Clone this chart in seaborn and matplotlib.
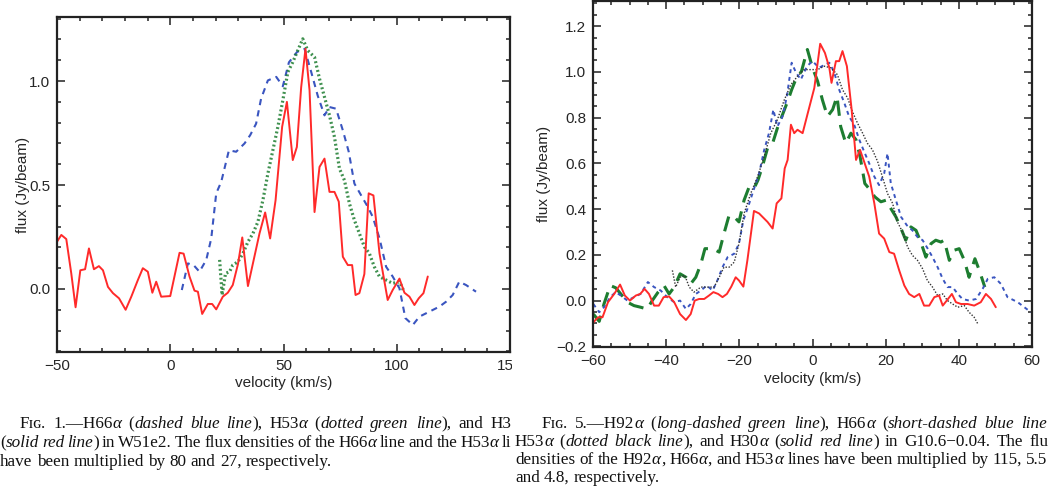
import re
import numpy as np
import pandas as pd
import seaborn as sns
import matplotlib.pyplot as plt
from matplotlib.ticker import MultipleLocator
from matplotlib.transforms import Bbox, TransformedBbox

sns.set_style("ticks")
plt.rcParams['font.family'] = ['Liberation Sans', 'DejaVu Sans']

# ---- Fig. 1 (W51e2) ----
w51_h30_v = [-50, -48.1, -45.9, -43.7, -41.8, -39.7, -37.6, -35.9, -33.7, -31.5, -29.7, -27.5, -25.3,
             -22.6, -19.7, -17.2, -14.3, -12.1, -9.9, -7.9, -6.2, -4.0, 0, 4.1, 5.9, 8.5, 10.7, 12.2,
             14.1, 16.6, 18.5, 20.3, 23.2, 25.4, 27.6, 29.9, 31.8, 34.3, 36.5, 39.4, 41.9, 44.1, 46.5,
             49.4, 51.5, 54.1, 55.9, 57.8, 59.7, 61.5, 63.7, 65.9, 68.1, 70.3, 72.5, 74.4, 76.2, 78.4,
             80.3, 81.8, 83.5, 85.7, 87.6, 89.7, 92.4, 96.0, 98.2, 101.2, 103.4, 105.6, 107.8, 109.7,
             111.8, 113.7]
w51_h30_f = [0.227, 0.26, 0.24, 0.075, -0.088, 0.09, 0.095, 0.195, 0.095, 0.11, 0.09, 0.01, -0.02,
             -0.045, -0.10, -0.037, 0.043, 0.10, 0.083, -0.018, 0.035, -0.037, -0.034, 0.174, 0.17,
             0.06, -0.008, -0.013, -0.12, -0.072, -0.072, -0.098, -0.037, -0.018, 0.019, 0.12, 0.248,
             0.014, 0.123, 0.267, 0.368, 0.243, 0.427, 0.78, 0.90, 0.62, 0.683, 0.97, 1.155, 0.955,
             0.37, 0.587, 0.627, 0.467, 0.467, 0.42, 0.155, 0.115, 0.115, -0.029, -0.02, 0.072, 0.46,
             0.45, 0.17, -0.053, -0.005, 0.05, -0.018, -0.037, -0.077, -0.045, -0.02, 0.06]

w51_h66_v = [5.1, 7.8, 10.3, 12.9, 15.9, 18.1, 20.3, 22.5, 25.9, 29.1, 32.8, 35.3, 37.9, 40.1, 43.1,
             46.8, 49.7, 52.4, 56.0, 59.3, 62.2, 65.1, 68.1, 70.3, 73.2, 76.2, 78.8, 81.3, 84.3, 87.2,
             89.4, 92.4, 95.3, 98.2, 101.2, 103.8, 107.1, 110.0, 114.4, 118.8, 121.8, 124.7, 127.6,
             130.6, 135.0]
w51_h66_f = [-0.005, 0.123, 0.115, 0.083, 0.14, 0.243, 0.46, 0.515, 0.667, 0.66, 0.70, 0.74, 0.795,
             0.915, 1.003, 1.02, 0.975, 1.09, 1.14, 1.155, 1.045, 0.93, 0.835, 0.875, 0.867, 0.763,
             0.66, 0.507, 0.45, 0.395, 0.347, 0.243, 0.107, 0.06, 0.003, -0.14, -0.173, -0.133,
             -0.109, -0.085, -0.061, -0.029, 0.035, 0.019, -0.013]

w51_h53_v = [21.8, 22.9, 24.4, 26.2, 27.6, 29.9, 32.1, 34.3, 36.5, 38.7, 40.9, 43.1, 45.3, 47.5, 49.7,
             51.9, 54.1, 56.3, 58.5, 60.7, 63.7, 65.9, 68.1, 70.3, 72.5, 74.7, 76.9, 79.1, 81.3, 83.5,
             85.7, 87.9, 90.1, 92.4, 95.3, 98.2, 101.2, 102.9]
w51_h53_f = [0.14, -0.029, 0.075, 0.083, 0.115, 0.131, 0.171, 0.227, 0.267, 0.323, 0.427, 0.555,
             0.667, 0.779, 0.907, 1.043, 1.091, 1.147, 1.203, 1.147, 1.115, 1.011, 0.923, 0.835,
             0.731, 0.579, 0.523, 0.411, 0.331, 0.267, 0.203, 0.171, 0.107, 0.059, 0.043, 0.027,
             0.035, -0.005]

# ---- Fig. 5 (G10.6-0.04) ----
g10_h30_v = [-59.9, -58.6, -57.4, -55.9, -54.2, -52.6, -51.3, -49.9, -48.3, -47.1, -45.9, -44.7,
             -43.3, -42.0, -40.7, -39.2, -37.8, -36.2, -34.6, -33.3, -32.2, -31.0, -29.6, -28.3,
             -27.1, -25.8, -24.6, -23.4, -22.2, -21.0, -20.1, -18.9, -17.8, -16.0, -14.6, -12.3,
             -10.9, -9.8, -8.5, -7.6, -6.8, -5.9, -5.0, -4.1, -2.7, -1.4, 0.5, 2.1, 3.4, 4.6, 5.2,
             6.4, 7.3, 8.2, 9.4, 10.7, 11.9, 13.0, 14.1, 15.5, 16.9, 18.2, 19.6, 21.0, 22.3, 23.7,
             25.1, 26.4, 27.8, 29.2, 30.5, 31.9, 33.3, 34.6, 35.6, 36.7, 38.1, 39.2, 40.6, 42.4,
             44.2, 46.0, 47.4, 48.8, 50.1]
g10_h30_f = [-0.095, -0.073, -0.073, -0.007, 0.029, 0.070, 0.022, 0.0, 0.022, 0.029, 0.051, 0.029,
             -0.022, -0.022, 0.015, 0.018, -0.007, -0.059, -0.085, -0.059, 0.0, 0.007, 0.007, 0.022,
             0.037, 0.029, 0.015, 0.029, 0.061, 0.102, 0.088, 0.061, 0.176, 0.392, 0.381, 0.344,
             0.315, 0.425, 0.447, 0.578, 0.615, 0.769, 0.732, 0.747, 0.732, 0.813, 0.930, 1.123,
             1.083, 1.018, 0.952, 1.047, 1.047, 1.091, 1.025, 0.835, 0.615, 0.659, 0.608, 0.542,
             0.425, 0.293, 0.271, 0.212, 0.205, 0.132, 0.066, 0.029, 0.015, 0.029, -0.022, -0.022,
             0.015, 0.022, -0.022, 0.0, 0.029, -0.007, -0.015, -0.015, -0.022, -0.007, 0.029,
             0.007, -0.029]

g10_h66_v = [-59.9, -58.3, -57.0, -55.3, -53.8, -52.4, -50.6, -48.8, -47.0, -45.0, -43.3, -41.5,
             -39.7, -37.8, -36.2, -34.6, -33.3, -31.9, -30.5, -28.9, -27.3, -26.0, -24.6, -23.2,
             -21.4, -20.1, -18.9, -17.6, -16.1, -14.6, -13.2, -11.9, -10.7, -9.6, -8.2, -7.0, -5.7,
             -4.6, -3.2, -1.5, 0, 1.8, 3.4, 4.6, 5.9, 7.3, 8.7, 10.0, 11.4, 12.8, 14.1, 15.5, 16.9,
             18.2, 19.6, 20.5, 21.4, 22.8, 24.2, 25.8, 27.3, 28.7, 30.1, 31.5, 32.8, 34.2, 35.6,
             36.9, 38.3, 39.7, 41.0, 42.8, 44.7, 46.5, 47.9, 49.7, 51.5, 53.3, 56.1, 59.7]
g10_h66_f = [-0.015, -0.051, -0.029, 0.015, 0.037, 0.022, 0.0, 0.015, 0.029, 0.081, 0.059, 0.044,
             0.015, -0.007, 0.0, -0.037, -0.015, 0.029, 0.044, 0.066, 0.044, 0.088, 0.146, 0.190,
             0.205, 0.249, 0.351, 0.410, 0.483, 0.556, 0.659, 0.732, 0.835, 0.761, 0.805, 0.893,
             1.040, 1.0, 0.966, 1.025, 1.047, 1.018, 1.032, 1.040, 1.0, 0.922, 0.864, 0.805, 0.769,
             0.703, 0.652, 0.600, 0.542, 0.505, 0.556, 0.644, 0.513, 0.439, 0.366, 0.329, 0.307,
             0.278, 0.264, 0.227, 0.190, 0.146, 0.095, 0.059, 0.059, 0.029, 0.007, 0.0, 0.007,
             0.051, 0.095, 0.102, 0.073, 0.015, -0.007, -0.051]

g10_h92_v = [-59.9, -58.3, -57.0, -55.3, -53.8, -52.4, -50.6, -48.8, -47.0, -45.2, -43.8, -42.2,
             -40.6, -39.2, -37.8, -36.2, -34.6, -33.3, -31.9, -30.5, -29.4, -27.3, -25.5, -24.2,
             -22.8, -21.4, -20.1, -18.7, -17.3, -16.0, -14.9, -13.7, -12.3, -10.9, -9.6, -8.2, -6.8,
             -5.7, -4.6, -3.0, -1.4, 0, 1.4, 2.7, 4.1, 5.5, 6.7, 7.7, 9.1, 10.5, 11.9, 13.0, 14.3,
             15.8, 17.0, 18.7, 20.1, 21.4, 22.8, 24.2, 25.5, 26.9, 28.3, 29.6, 31.0, 32.4, 33.7,
             35.1, 36.0, 37.4, 38.7, 40.1, 41.5, 42.8, 44.4, 45.6, 47.1]
g10_h92_f = [-0.059, -0.091, -0.015, 0.066, 0.056, 0.029, -0.007, -0.022, -0.029, -0.037, 0.0,
             0.037, 0.066, 0.029, 0.059, 0.117, 0.102, 0.073, 0.102, 0.161, 0.227, 0.227, 0.212,
             0.293, 0.373, 0.366, 0.344, 0.439, 0.498, 0.490, 0.527, 0.586, 0.666, 0.688, 0.754,
             0.813, 0.871, 0.922, 0.966, 1.003, 1.098, 1.018, 0.959, 0.878, 0.805, 0.835, 0.893,
             0.761, 0.688, 0.732, 0.703, 0.630, 0.512, 0.483, 0.454, 0.432, 0.439, 0.403, 0.366,
             0.315, 0.264, 0.322, 0.307, 0.256, 0.190, 0.249, 0.264, 0.256, 0.264, 0.176, 0.220,
             0.227, 0.176, 0.102, 0.183, 0.132, 0.059]

g10_h53_v = [-38.3, -37.4, -36.2, -34.9, -33.7, -32.4, -30.5, -28.7, -26.9, -25.5, -24.2, -22.8,
             -21.4, -20.1, -18.7, -16.9, -15.0, -13.2, -11.4, -9.6, -7.7, -5.9, -4.1, -2.3, -0.5,
             1.4, 3.2, 5.0, 6.8, 8.2, 9.6, 10.9, 12.3, 13.7, 15.0, 16.4, 17.8, 19.1, 20.5, 21.9,
             23.2, 24.6, 26.0, 27.3, 28.7, 30.1, 31.4, 32.8, 34.2, 35.6, 36.9, 38.3, 39.7, 41.5,
             42.8, 44.2, 45.3]
g10_h53_f = [0.132, 0.059, 0.102, 0.110, 0.059, 0.037, 0.059, 0.059, 0.059, 0.102, 0.146, 0.146,
             0.168, 0.249, 0.381, 0.468, 0.542, 0.630, 0.732, 0.791, 0.878, 0.944, 0.981, 1.010,
             1.010, 1.010, 1.025, 1.018, 0.988, 0.922, 0.886, 0.827, 0.776, 0.732, 0.688, 0.659,
             0.608, 0.542, 0.468, 0.425, 0.344, 0.300, 0.234, 0.198, 0.176, 0.139, 0.088, 0.059,
             0.022, 0.029, 0.0, -0.015, -0.029, -0.022, -0.051, -0.073, -0.105]

# captions as cropped in the picture, {...} = italic
caption1 = ["Fɪɢ. 1.—H66{α} ({dashed blue line}), H53{α} ({dotted green line}), and H3",
            "({solid red line}) in W51e2. The flux densities of the H66{α} line and the H53{α} li",
            "have been multiplied by 80 and 27, respectively."]
caption5 = ["Fɪɢ. 5.—H92{α} ({long-dashed green line}), H66{α} ({short-dashed blue line}",
            "H53{α} ({dotted black line}), and H30{α} ({solid red line}) in G10.6−0.04. The flu",
            "densities of the H92{α}, H66{α}, and H53{α} lines have been multiplied by 115, 5.5",
            "and 4.8, respectively."]

RED = '#ff2a2a'
BLUE = '#3a55c0'
GREEN = '#1d7d30'

W, H = 1049, 487
fig = plt.figure(figsize=(W / 100, H / 100), dpi=100)
left_clip = TransformedBbox(Bbox([[0, 0], [512 / W, 1]]), fig.transFigure)


def px_axes(l, r, t, b):
    return fig.add_axes([l / W, (H - b) / H, (r - l) / W, (b - t) / H])


def style_axes(ax, xmaj, xmin, ymaj, ymin):
    ax.xaxis.set_major_locator(MultipleLocator(xmaj))
    ax.xaxis.set_minor_locator(MultipleLocator(xmin))
    ax.yaxis.set_major_locator(MultipleLocator(ymaj))
    ax.yaxis.set_minor_locator(MultipleLocator(ymin))
    ax.tick_params(which='both', direction='in', top=True, right=True, width=1.1, color='#222')
    ax.tick_params(which='major', length=6, labelsize=11, pad=5)
    ax.tick_params(which='minor', length=3)
    for s in ax.spines.values():
        s.set_linewidth(1.6)
        s.set_color('#222')
    ax.set_xlabel('velocity (km/s)', fontsize=11)
    ax.set_ylabel('flux (Jy/beam)', fontsize=11)


# left panel
ax1 = px_axes(57, 510, 17, 352)
sns.lineplot(x=w51_h66_v, y=w51_h66_f, ax=ax1, color=BLUE, linewidth=1.5,
             linestyle=(0, (3, 2.5)), estimator=None, sort=False)
sns.lineplot(x=w51_h53_v, y=w51_h53_f, ax=ax1, color=GREEN, linewidth=2.3,
             linestyle=(0, (0.6, 0.8)), estimator=None, sort=False, alpha=0.85)
sns.lineplot(x=w51_h30_v, y=w51_h30_f, ax=ax1, color=RED, linewidth=1.4,
             estimator=None, sort=False)
ax1.set_xlim(-50, 150)
ax1.set_ylim(-0.303, 1.308)
style_axes(ax1, 50, 10, 0.5, 0.1)
ax1.yaxis.set_major_formatter('{x:.1f}')
ax1.xaxis.set_label_coords(0.5, -0.072)
ax1.yaxis.set_label_coords(-0.06, 0.5)
for lab in ax1.get_xticklabels():
    lab.set_clip_on(True)
    lab.set_clip_box(left_clip)

# right panel
ax2 = px_axes(593, 1032, 1, 347)
sns.lineplot(x=g10_h92_v, y=g10_h92_f, ax=ax2, color=GREEN, linewidth=2.2,
             linestyle=(0, (5, 3)), estimator=None, sort=False)
sns.lineplot(x=g10_h66_v, y=g10_h66_f, ax=ax2, color=BLUE, linewidth=1.4,
             linestyle=(0, (2, 2)), estimator=None, sort=False)
sns.lineplot(x=g10_h53_v, y=g10_h53_f, ax=ax2, color='#333333', linewidth=1.0,
             linestyle=(0, (1, 1.2)), estimator=None, sort=False)
sns.lineplot(x=g10_h30_v, y=g10_h30_f, ax=ax2, color=RED, linewidth=1.4,
             estimator=None, sort=False)
ax2.set_xlim(-60, 60)
ax2.set_ylim(-0.203, 1.31)
style_axes(ax2, 20, 5, 0.2, 0.05)
ax2.yaxis.set_major_formatter('{x:.1f}')
ax2.xaxis.set_label_coords(0.5, -0.072)
ax2.yaxis.set_label_coords(-0.096, 0.5)

# captions (pixel coords, y down)
cap = fig.add_axes([0, 0, 1, 1], zorder=-1)
cap.set_xlim(0, W)
cap.set_ylim(H, 0)
cap.axis('off')
renderer = fig.canvas.get_renderer()


def caption_line(x0, y, line, x1=None, clip=None):
    words = [[]]
    for seg in [p for p in re.split(r'(\{[^}]*\})', line) if p]:
        italic = seg.startswith('{')
        for k, piece in enumerate(seg.strip('{}').split(' ')):
            if k > 0:
                words.append([])
            if piece:
                words[-1].append((piece, italic))
    words = [w for w in words if w]
    kw = dict(fontsize=12.3, family=['Liberation Serif', 'DejaVu Serif'], color='#111',
              va='baseline', ha='left')
    arts, widths = [], []
    for w in words:
        row = []
        for piece, italic in w:
            t = cap.text(0, y, piece, style='italic' if italic else 'normal', **kw)
            row.append((t, t.get_window_extent(renderer).width))
        arts.append(row)
        widths.append(sum(r[1] for r in row))
    gap = 4.3
    if x1 is not None and len(words) > 1:
        gap = (x1 - x0 - sum(widths)) / (len(words) - 1)
    x = x0
    for row in arts:
        for t, wdt in row:
            t.set_x(x)
            if clip is not None:
                t.set_clip_on(True)
                t.set_clip_box(clip)
            x += wdt
        x += gap


caption_line(20, 428, caption1[0], x1=511, clip=left_clip)
caption_line(0, 447, caption1[1], x1=511, clip=left_clip)
caption_line(0, 466, caption1[2], clip=left_clip)
caption_line(542, 428, caption5[0], x1=1047)
caption_line(515, 446, caption5[1], x1=1048)
caption_line(515, 464, caption5[2], x1=1047)
caption_line(515, 482, caption5[3])

fig.savefig('out.png', dpi=100)
